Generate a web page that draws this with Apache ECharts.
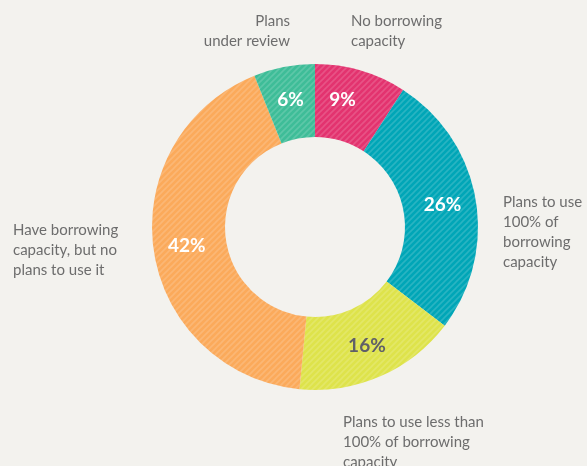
<!DOCTYPE html>
<html>
<head>
<meta charset="utf-8">
<script src="https://cdn.jsdelivr.net/npm/echarts@6/dist/echarts.min.js"></script>
<style>
html,body{margin:0;padding:0;background:#f3f2ee;}
#c{width:587px;height:466px;}
</style>
</head>
<body>
<div id="c"></div>
<script>
const categories = [
  'No borrowing\ncapacity',
  'Plans to use\n100% of\nborrowing\ncapacity',
  'Plans to use less than\n100% of borrowing\ncapacity',
  'Have borrowing\ncapacity, but no\nplans to use it',
  'Plans\nunder review'
];
const values = [9, 26, 16, 42, 6];
const colors = ['#e3336f', '#00a6b7', '#dee34b', '#fbaa5b', '#3ebd98'];
const labelColors = ['#ffffff', '#ffffff', '#5f5f68', '#ffffff', '#ffffff'];

function stripe(base) {
  const c = document.createElement('canvas');
  c.width = 6; c.height = 6;
  const g = c.getContext('2d');
  g.fillStyle = base; g.fillRect(0, 0, 6, 6);
  g.strokeStyle = 'rgba(255,255,255,0.16)';
  g.lineWidth = 1.6;
  g.beginPath();
  g.moveTo(-1, 7); g.lineTo(7, -1);
  g.moveTo(-4, 4); g.lineTo(4, -4);
  g.moveTo(2, 10); g.lineTo(10, 2);
  g.stroke();
  return { image: c, repeat: 'repeat' };
}

const chart = echarts.init(document.getElementById('c'));
const labelFont = 'Lato, "Open Sans", sans-serif';
const textPos = [
  { x: 351, y: 11, align: 'left' },
  { x: 503, y: 192, align: 'left' },
  { x: 343, y: 412, align: 'left' },
  { x: 13, y: 220, align: 'left' },
  { x: 290, y: 11, align: 'right' }
];
chart.setOption({
  backgroundColor: '#f3f2ee',
  animation: false,
  series: [{
    type: 'pie',
    center: [315, 227],
    radius: [90, 163],
    startAngle: 90,
    clockwise: true,
    silent: true,
    label: {
      show: true,
      position: 'inside',
      formatter: '{c}%',
      fontFamily: labelFont,
      fontWeight: 'bold',
      fontSize: 19
    },
    labelLine: { show: false },
    itemStyle: { borderWidth: 0 },
    data: values.map((v, i) => ({
      value: v,
      name: categories[i],
      itemStyle: { color: stripe(colors[i]) },
      label: { color: labelColors[i], offset: i === 0 ? [-9, -3] : [0, 0] }
    }))
  }],
  graphic: categories.map((t, i) => ({
    type: 'text',
    silent: true,
    style: {
      x: textPos[i].x,
      y: textPos[i].y,
      text: t,
      align: textPos[i].align,
      verticalAlign: 'top',
      lineHeight: 20,
      fontSize: 15,
      fontFamily: labelFont,
      fill: '#6d6d6d'
    }
  }))
});
</script>
</body>
</html>
